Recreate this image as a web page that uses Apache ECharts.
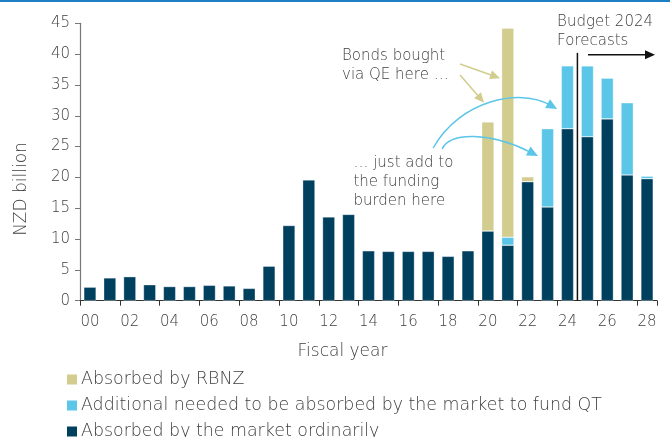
<!DOCTYPE html>
<html>
<head>
<meta charset="utf-8">
<script src="https://cdn.jsdelivr.net/npm/echarts@6/dist/echarts.min.js"></script>
<style>
html,body{margin:0;padding:0;background:#fff;}
#main{width:670px;height:437px;}
</style>
</head>
<body>
<div id="main"></div>
<script>
// ---- data ----
const categories = ['00','01','02','03','04','05','06','07','08','09','10','11','12','13','14','15','16','17','18','19','20','21','22','23','24','25','26','27','28'];
const seriesNames = ['Absorbed by RBNZ','Additional needed to be absorbed by the market to fund QT','Absorbed by the market ordinarily'];
const marketOrdinary = [2.2,3.7,3.9,2.6,2.3,2.3,2.5,2.4,2.0,5.6,12.2,19.6,13.6,14.0,8.1,8.0,8.0,8.0,7.2,8.1,11.3,9.0,19.3,15.2,27.9,26.6,29.5,20.4,19.8];
const marketQT = [null,null,null,null,null,null,null,null,null,null,null,null,null,null,null,null,null,null,null,null,null,1.3,null,12.7,10.2,11.5,6.6,11.7,0.4];
const rbnz = [null,null,null,null,null,null,null,null,null,null,null,null,null,null,null,null,null,null,null,null,17.7,33.9,0.8,null,null,null,null,null,null];
const yMin = 0, yMax = 45, yStep = 5;

const FONT = 'DejaVu Sans';
const FW = 200;
const TXT = '#404040';
const cNavy = '#00405f', cBlue = '#5bc6e8', cKhaki = '#d2cd8e';

const chart = echarts.init(document.getElementById('main'), null, {renderer:'canvas'});
const barStyle = (c) => ({color:c, borderColor:'rgba(255,255,255,0.55)', borderWidth:0.6});

chart.setOption({
  animation:false,
  textStyle:{fontFamily:FONT, color:TXT, fontWeight:FW},
  grid:{left:80, right:13, top:23.3, bottom:136.3, containLabel:false},
  legend:{
    orient:'vertical', left:67, top:371, height:90, padding:0, itemWidth:10, itemHeight:10, itemGap:9,
    icon:'rect', data:seriesNames, itemStyle:{borderWidth:0},
    textStyle:{fontFamily:FONT, fontWeight:FW, fontSize:17.4, color:TXT, padding:[0,0,0,-1], lineHeight:14},
    selectedMode:false
  },
  xAxis:{
    type:'category', data:categories,
    axisLine:{lineStyle:{color:'#333', width:1.2}},
    axisTick:{show:true, interval:1, length:5, lineStyle:{color:'#333'}},
    axisLabel:{interval:1, fontFamily:FONT, fontWeight:FW, fontSize:15, color:TXT, margin:14},
    name:'Fiscal year', nameLocation:'middle', nameGap:42,
    nameTextStyle:{fontFamily:FONT, fontWeight:FW, fontSize:17, color:TXT, padding:[0,52,0,0]}
  },
  yAxis:{
    type:'value', min:yMin, max:yMax, interval:yStep,
    splitLine:{show:false},
    axisLine:{show:true, lineStyle:{color:'#777', width:1.2}},
    axisTick:{show:true, length:5, lineStyle:{color:'#777'}},
    axisLabel:{fontFamily:FONT, fontWeight:FW, fontSize:15, color:TXT, margin:10},
    name:'NZD billion', nameLocation:'middle', nameGap:50,
    nameTextStyle:{fontFamily:FONT, fontWeight:FW, fontSize:17, color:TXT, padding:[0,54,0,0]}
  },
  series:[
    {name:seriesNames[2], type:'bar', stack:'t', data:marketOrdinary, barWidth:'62%', itemStyle:barStyle(cNavy)},
    {name:seriesNames[1], type:'bar', stack:'t', data:marketQT, barWidth:'62%', itemStyle:barStyle(cBlue)},
    {name:seriesNames[0], type:'bar', stack:'t', data:rbnz, barWidth:'62%', itemStyle:barStyle(cKhaki)}
  ]
});

// ---- annotations (in category-index / value units) ----
function pt(c, v){
  const x0 = chart.convertToPixel({xAxisIndex:0}, 0);
  const x1 = chart.convertToPixel({xAxisIndex:0}, categories.length-1);
  const x = x0 + (x1-x0)/(categories.length-1)*c;
  const y = chart.convertToPixel({yAxisIndex:0}, v);
  return [x,y];
}
function head(tip, from, len, hw, color){
  const dx = tip[0]-from[0], dy = tip[1]-from[1];
  const d = Math.sqrt(dx*dx+dy*dy); const ux=dx/d, uy=dy/d;
  const bx = tip[0]-ux*len, by = tip[1]-uy*len;
  return {type:'polygon', shape:{points:[tip,[bx-uy*hw, by+ux*hw],[bx+uy*hw, by-ux*hw]]}, style:{fill:color}, z:100};
}
function straight(a, b, color, lw){
  const p = pt(a[0],a[1]), q = pt(b[0],b[1]);
  const d = Math.hypot(q[0]-p[0], q[1]-p[1]); const len = 10;
  const qq = [q[0]-(q[0]-p[0])/d*len*0.8, q[1]-(q[1]-p[1])/d*len*0.8];
  return [
    {type:'line', shape:{x1:p[0],y1:p[1],x2:qq[0],y2:qq[1]}, style:{stroke:color, lineWidth:lw}, z:100},
    head(q, p, len, 4.5, color)
  ];
}
function curve(P, color, lw){
  const [a,b,c,d] = P.map(p=>pt(p[0],p[1]));
  const len = 11;
  const dd = Math.hypot(d[0]-c[0], d[1]-c[1]);
  const dEnd = [d[0]-(d[0]-c[0])/dd*len*0.8, d[1]-(d[1]-c[1])/dd*len*0.8];
  return [
    {type:'bezierCurve', shape:{x1:a[0],y1:a[1],cpx1:b[0],cpy1:b[1],cpx2:c[0],cpy2:c[1],x2:dEnd[0],y2:dEnd[1]}, style:{stroke:color, lineWidth:lw, fill:null}, z:100},
    head(d, c, len, 5, color)
  ];
}
function label(c, v, text, size){
  const p = pt(c, v);
  return {type:'text', x:p[0], y:p[1], z:100, style:{text:text, fill:TXT, font:FW+' '+size+'px "'+FONT+'"', lineHeight:19, textAlign:'left', textVerticalAlign:'top'}};
}

const g = [];
// top rule
g.push({type:'rect', shape:{x:0,y:0,width:670,height:2}, style:{fill:'#1f7fc4'}});
// forecast divider
const vt = pt(24.5, 40.2), vb = pt(24.5, 0);
g.push({type:'line', shape:{x1:vt[0],y1:vt[1],x2:vb[0],y2:vb[1]}, style:{stroke:'#111', lineWidth:1.5}, z:100});
g.push(...straight([25.03,39.9],[28.4,39.9], '#111', 1.5));
g.push(label(23.48, 46.8, 'Budget 2024\nForecasts', 15));
// QE arrows
g.push(...straight([18.6,38.4],[20.61,36.1], cKhaki, 1.5));
g.push(...straight([18.6,36.6],[19.81,32.1], cKhaki, 1.5));
g.push(label(12.67, 41.2, 'Bonds bought\nvia QE here …', 15));
// QT arrows
g.push(...curve([[17.25,24.77],[18.60,32.56],[21.62,34.51],[23.48,31.10]], cBlue, 1.5));
g.push(...curve([[17.70,24.61],[18.10,27.37],[20.11,27.37],[22.52,23.47]], cBlue, 1.5));
g.push(label(13.24, 23.88, '… just add to\nthe funding\nburden here', 15));

chart.setOption({graphic:g});
</script>
</body>
</html>
